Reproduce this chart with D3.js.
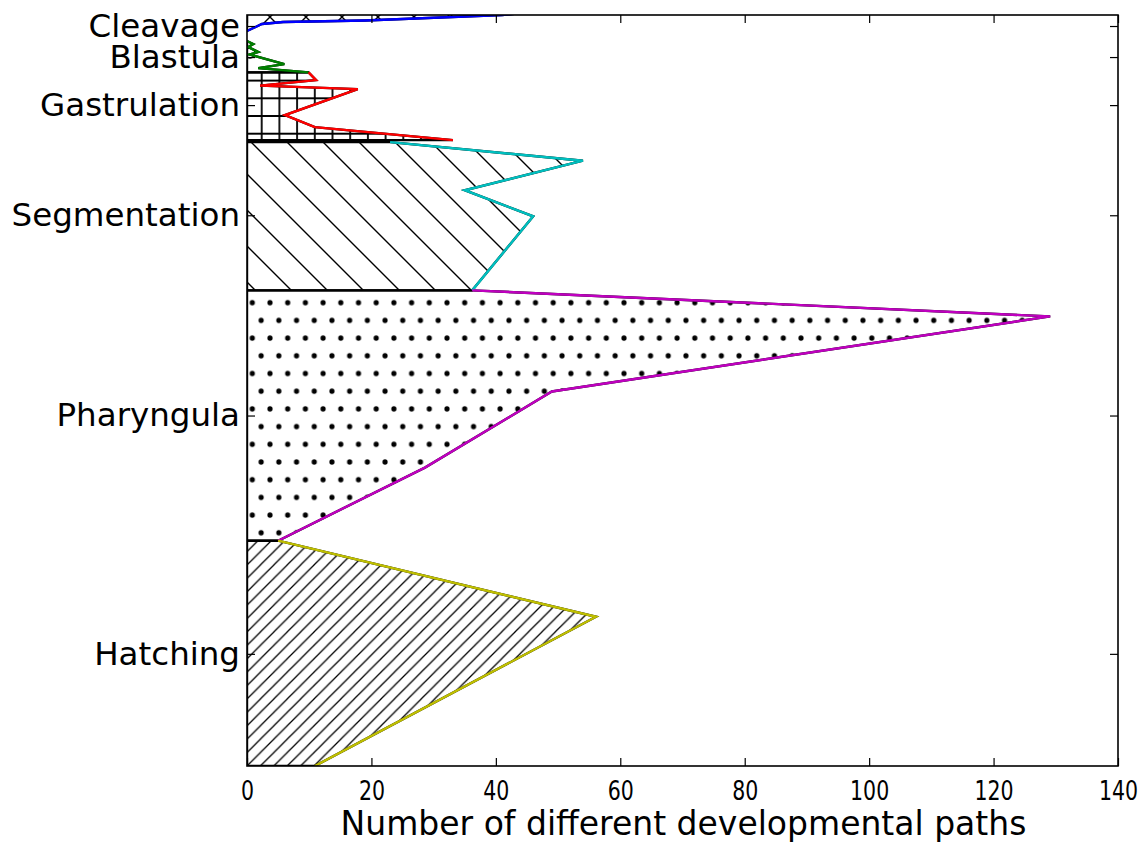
<!DOCTYPE html>
<html>
<head>
<meta charset="utf-8">
<script src="https://cdn.jsdelivr.net/npm/d3@7"></script>
<style>
  html, body { margin: 0; padding: 0; background: #fff; }
  svg { display: block; }
  text { font-family: "DejaVu Sans", sans-serif; fill: #000; }
</style>
</head>
<body>
<svg id="chart" width="1148" height="844"></svg>
<script>
// ---------------- data ----------------
const stageNames = ["Cleavage", "Blastula", "Gastrulation", "Segmentation", "Pharyngula", "Hatching"];
const stageTicks = [1.1, 4.2, 9.0, 20, 40, 63.8];
const xTickValues = [0, 20, 40, 60, 80, 100, 120, 140];
const xLabel = "Number of different developmental paths";

const cleavageTime  = [-0.3, 0.0, 0.55, 0.7, 0.9, 1.6];
const cleavagePaths = [46, 41, 19, 5.8, 2.4, 0];

const blastulaTime  = [2.6, 2.9, 3.2, 3.7, 3.95, 4.9, 5.3, 5.73];
const blastulaPaths = [0, 1.0, 0.2, 1.8, 0.4, 6.0, 1.8, 9.9];

const gastrulationTime  = [5.73, 6.5, 7.05, 7.4, 10.0, 11.2, 12.5];
const gastrulationPaths = [9.9, 11.1, 2.1, 17.8, 6.1, 10.9, 33.1];

const segmentationTime  = [12.7, 14.55, 17.5, 20.1, 27.5];
const segmentationPaths = [23.0, 54.0, 35.0, 46.0, 36.2];

const pharyngulaTime  = [27.5, 30.1, 37.6, 45.2, 52.5];
const pharyngulaPaths = [36.2, 129.1, 49.0, 28.6, 5.0];

const hatchingTime  = [52.5, 60.1, 75.0];
const hatchingPaths = [5.0, 56.1, 10.9];

const seriesColors = ["#0000ff", "#008000", "#ff0000", "#00bfbf", "#bf00bf", "#bfbf00"];
const seriesHatch  = ["x", "o", "+", "\\", ".", "/"];

(function () {
// ---------------- setup ----------------
const svg = d3.select("#chart");
const pLeft = 247, pRight = 1118, pTop = 15, pBottom = 766;

const x = d3.scaleLinear().domain([0, 140]).range([pLeft, pRight]);
const y = d3.scaleLinear().domain([0, 75]).range([pTop, pBottom]);

const series = [
  [cleavageTime, cleavagePaths],
  [blastulaTime, blastulaPaths],
  [gastrulationTime, gastrulationPaths],
  [segmentationTime, segmentationPaths],
  [pharyngulaTime, pharyngulaPaths],
  [hatchingTime, hatchingPaths]
].map(([t, v], i) => ({
  name: stageNames[i],
  color: seriesColors[i],
  hatch: seriesHatch[i],
  pts: t.map((tt, j) => ({ t: tt, v: v[j] }))
}));

const defs = svg.append("defs");
defs.append("clipPath").attr("id", "plotclip")
  .append("rect").attr("x", pLeft).attr("y", pTop)
  .attr("width", pRight - pLeft).attr("height", pBottom - pTop);

function pat(id, w, h, ox, oy) {
  return defs.append("pattern").attr("id", id)
    .attr("patternUnits", "userSpaceOnUse")
    .attr("x", ox).attr("y", oy).attr("width", w).attr("height", h);
}
function applyStroke(sel) { return sel.attr("stroke", "#000").attr("stroke-width", 1.4).attr("fill", "none"); }

// x hatch
{
  const s = 36;
  const p = pat("h-x", s, s, 270 - s / 2, 17 - s / 2);
  applyStroke(p.append("path").attr("d", `M-2,-2L${s + 2},${s + 2}M-2,${s + 2}L${s + 2},-2`));
}
// o hatch
{
  const s = 36;
  const p = pat("h-o", s, 2 * s, 250 - s / 2, 53 - s);
  [[0, 0], [s, 0], [s / 2, s], [0, 2 * s], [s, 2 * s]].forEach(([cx, cy]) =>
    applyStroke(p.append("circle").attr("cx", cx).attr("cy", cy).attr("r", 5)));
}
// + hatch
{
  const s = 17.7;
  const p = pat("h-plus", s, s, 261.7 - s / 2, 98.3 - s / 2);
  applyStroke(p.append("path").attr("d", `M${s / 2},0V${s}M0,${s / 2}H${s}`)).attr("stroke-width", 1.8);
}
// \ hatch
{
  const s = 36;
  const p = pat("h-back", s, s, 255, 290 - s * 8);
  applyStroke(p.append("path").attr("d", `M-2,-2L${s + 2},${s + 2}M${s - 2},-2L${s + 2},2M-2,${s - 2}L2,${s + 2}`));
}
// . hatch
{
  const s = 17.7;
  const p = pat("h-dot", s, 2 * s, 252.3, 302.7);
  [[0, 0], [s, 0], [s / 2, s], [0, 2 * s], [s, 2 * s]].forEach(([cx, cy]) =>
    p.append("circle").attr("cx", cx).attr("cy", cy).attr("r", 2.6).attr("fill", "#000"));
}
// / hatch
{
  const s = 13.4;
  const p = pat("h-fwd", s, s, 247, 766);
  applyStroke(p.append("path").attr("d", `M-2,${s + 2}L${s + 2},-2M-2,2L2,-2M${s - 2},${s + 2}L${s + 2},${s - 2}`)).attr("stroke-width", 1.3);
}
const patternId = { "x": "h-x", "o": "h-o", "+": "h-plus", "\\": "h-back", ".": "h-dot", "/": "h-fwd" };

// ---------------- marks ----------------
const plot = svg.append("g").attr("clip-path", "url(#plotclip)");
const polyLine = d3.line().x(d => x(d.v)).y(d => y(d.t));

series.forEach(s => {
  const first = s.pts[0], last = s.pts[s.pts.length - 1];
  const poly = [{ t: first.t, v: 0 }, ...s.pts, { t: last.t, v: 0 }];
  plot.append("path")
    .attr("d", polyLine(poly) + "Z")
    .attr("fill", `url(#${patternId[s.hatch]})`)
    .attr("stroke", "#000")
    .attr("stroke-width", 2.4)
    .attr("stroke-linejoin", "miter");
});

series.forEach(s => {
  plot.append("path")
    .attr("d", polyLine(s.pts))
    .attr("fill", "none")
    .attr("stroke", s.color)
    .attr("stroke-width", 2.4)
    .attr("stroke-linejoin", "miter");
});

// ---------------- axes ----------------
const tickLen = 8;
const gB = svg.append("g").attr("transform", `translate(0,${pBottom})`)
  .call(d3.axisBottom(x).tickValues(xTickValues).tickFormat(d3.format("d")).tickSizeInner(-tickLen).tickSizeOuter(0).tickPadding(13));
gB.select(".domain").remove();
gB.selectAll(".tick text")
  .attr("font-size", 27).attr("font-family", "DejaVu Sans").attr("fill", "#000")
  .attr("dy", null)
  .attr("transform", "scale(0.76,1)")
  .attr("x", 0)
  .attr("y", 34)
  .attr("dy", null);

const gT = svg.append("g").attr("transform", `translate(0,${pTop})`)
  .call(d3.axisTop(x).tickValues(xTickValues).tickFormat("").tickSizeInner(-tickLen).tickSizeOuter(0));
gT.select(".domain").remove();

const gL = svg.append("g").attr("transform", `translate(${pLeft},0)`)
  .call(d3.axisLeft(y).tickValues(stageTicks).tickFormat((d, i) => stageNames[i]).tickSizeInner(-tickLen).tickSizeOuter(0).tickPadding(7));
gL.select(".domain").remove();
gL.selectAll("text").attr("font-size", 32.5).attr("font-family", "DejaVu Sans").attr("fill", "#000");

const gR = svg.append("g").attr("transform", `translate(${pRight},0)`)
  .call(d3.axisRight(y).tickValues(stageTicks).tickFormat("").tickSizeInner(-tickLen).tickSizeOuter(0));
gR.select(".domain").remove();

svg.selectAll(".tick line").attr("stroke", "#000").attr("stroke-width", 1.2);

svg.append("rect").attr("x", pLeft).attr("y", pTop)
  .attr("width", pRight - pLeft).attr("height", pBottom - pTop)
  .attr("fill", "none").attr("stroke", "#000").attr("stroke-width", 1.6);

svg.append("text")
  .attr("x", (pLeft + pRight) / 2 + 1).attr("y", 835)
  .attr("text-anchor", "middle")
  .attr("font-size", 33)
  .text(xLabel);
})();
</script>
</body>
</html>
